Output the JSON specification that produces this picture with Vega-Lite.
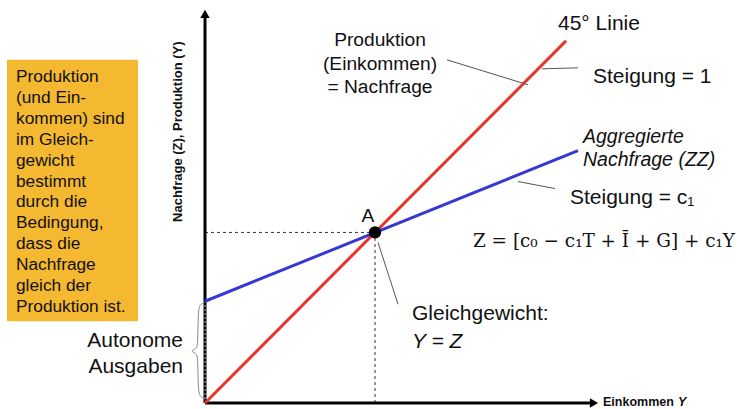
{
  "$schema": "https://vega.github.io/schema/vega-lite/v6.json",
  "width": 737,
  "height": 409,
  "autosize": {"type": "fit", "contains": "padding"},
  "padding": 0,
  "background": "white",
  "config": {"view": {"stroke": null}, "axis": {"disable": true}},
  "datasets": {
    "axes": [{"x": 0, "y": 0, "x2": 0, "y2": 389}, {"x": 0, "y": 0, "x2": 388, "y2": 0}],
    "arrowUp": [{"x": 0, "y": 390}],
    "arrowRight": [{"x": 389, "y": 0}],
    "box": [{"x": -198, "y": 344, "x2": -67, "y2": 82}],
    "curves": [
      {"curve": "45° Linie", "x": 0, "y": 0},
      {"curve": "45° Linie", "x": 361, "y": 363},
      {"curve": "ZZ", "x": 0, "y": 102},
      {"curve": "ZZ", "x": 373, "y": 253}
    ],
    "dashes": [{"x": 0, "y": 171, "x2": 170, "y2": 171}, {"x": 170, "y": 0, "x2": 170, "y2": 171}],
    "axisGap": [{"x": 0, "y": 4, "x2": 0, "y2": 100}],
    "leaders": [
      {"x": 242, "y": 344, "x2": 323, "y2": 319},
      {"x": 337, "y": 335, "x2": 373, "y2": 336},
      {"x": 313, "y": 222, "x2": 350, "y2": 215},
      {"x": 173, "y": 161, "x2": 193, "y2": 99}
    ],
    "brace": [
      {"i": 1, "x": 0, "y": 101}, {"i": 2, "x": -4, "y": 99}, {"i": 3, "x": -7, "y": 96},
      {"i": 4, "x": -7, "y": 58}, {"i": 5, "x": -9, "y": 54}, {"i": 6, "x": -15, "y": 52},
      {"i": 7, "x": -9, "y": 50}, {"i": 8, "x": -7, "y": 46}, {"i": 9, "x": -7, "y": 10},
      {"i": 10, "x": -4, "y": 6}, {"i": 11, "x": 0, "y": 4}
    ],
    "pointA": [{"x": 170, "y": 171}],
    "centerText": [
      {"x": 175, "y": 364, "text": "Produktion"},
      {"x": 175, "y": 340, "text": "(Einkommen)"},
      {"x": 175, "y": 317, "text": "= Nachfrage"},
      {"x": 163, "y": 187, "text": "A"}
    ],
    "leftText": [
      {"x": 353, "y": 380, "text": "45° Linie"},
      {"x": 388, "y": 327, "text": "Steigung = 1"},
      {"x": 365, "y": 206, "text": "Steigung = c₁"},
      {"x": 207, "y": 89, "text": "Gleichgewicht:"}
    ],
    "italicText": [
      {"x": 378, "y": 267, "text": "Aggregierte"},
      {"x": 378, "y": 244, "text": "Nachfrage (ZZ)"}
    ],
    "italicBig": [
      {"x": 207, "y": 61, "text": "Y = Z"}
    ],
    "rightText": [
      {"x": -22, "y": 62, "text": "Autonome"},
      {"x": -22, "y": 36, "text": "Ausgaben"}
    ],
    "formula": [{"x": 268, "y": 162, "text": "Z = [c₀ − c₁T + Ī + G] + c₁Y"}],
    "boxText": [
      {"x": -189, "y": 322, "text": "Produktion"},
      {"x": -189, "y": 301, "text": "(und  Ein-"},
      {"x": -189, "y": 280, "text": "kommen) sind"},
      {"x": -189, "y": 259, "text": "im Gleich-"},
      {"x": -189, "y": 238, "text": "gewicht"},
      {"x": -189, "y": 217, "text": "bestimmt"},
      {"x": -189, "y": 196, "text": "durch die"},
      {"x": -189, "y": 175, "text": "Bedingung,"},
      {"x": -189, "y": 154, "text": "dass die"},
      {"x": -189, "y": 133, "text": "Nachfrage"},
      {"x": -189, "y": 112, "text": "gleich der"},
      {"x": -189, "y": 91, "text": "Produktion ist."}
    ],
    "yTitle": [{"x": -27, "y": 272, "text": "Nachfrage  (Z), Produktion (Y)"}],
    "xTitle": [{"x": 398, "y": 1, "text": "Einkommen"}],
    "xTitleY": [{"x": 473, "y": 1, "text": "Y"}]
  },
  "encoding": {
    "x": {"field": "x", "type": "quantitative", "scale": {"domain": [-205, 532], "zero": false, "nice": false}, "axis": null},
    "y": {"field": "y", "type": "quantitative", "scale": {"domain": [-5, 404], "zero": false, "nice": false}, "axis": null}
  },
  "layer": [
    {"data": {"name": "box"}, "mark": {"type": "rect", "color": "#F5B831"},
     "encoding": {"x2": {"field": "x2"}, "y2": {"field": "y2"}}},
    {"data": {"name": "boxText"}, "mark": {"type": "text", "align": "left", "baseline": "alphabetic", "font": "Liberation Sans", "fontSize": 17.3, "color": "#111"},
     "encoding": {"text": {"field": "text"}}},
    {"data": {"name": "dashes"}, "mark": {"type": "rule", "color": "#333", "strokeWidth": 1, "strokeDash": [3, 3]},
     "encoding": {"x2": {"field": "x2"}, "y2": {"field": "y2"}}},
    {"data": {"name": "axes"}, "mark": {"type": "rule", "color": "black", "strokeWidth": 3},
     "encoding": {"x2": {"field": "x2"}, "y2": {"field": "y2"}}},
    {"data": {"name": "axisGap"}, "mark": {"type": "rule", "color": "#9a9a9a", "strokeWidth": 1.2, "strokeDash": [2, 2]},
     "encoding": {"x2": {"field": "x2"}, "y2": {"field": "y2"}}},
    {"data": {"name": "arrowUp"}, "mark": {"type": "point", "shape": "triangle-up", "filled": true, "size": 90, "color": "black", "opacity": 1}},
    {"data": {"name": "arrowRight"}, "mark": {"type": "point", "shape": "triangle-right", "filled": true, "size": 90, "color": "black", "opacity": 1}},
    {"data": {"name": "curves"}, "mark": {"type": "line", "strokeWidth": 3},
     "encoding": {"detail": {"field": "curve"}, "color": {"field": "curve", "type": "nominal", "scale": {"domain": ["45° Linie", "ZZ"], "range": ["#E8352B", "#3838D0"]}, "legend": null}}},
    {"data": {"name": "leaders"}, "mark": {"type": "rule", "color": "#555", "strokeWidth": 1},
     "encoding": {"x2": {"field": "x2"}, "y2": {"field": "y2"}}},
    {"data": {"name": "brace"}, "mark": {"type": "line", "color": "#888", "strokeWidth": 1, "interpolate": "basis"},
     "encoding": {"order": {"field": "i", "type": "quantitative"}}},
    {"data": {"name": "pointA"}, "mark": {"type": "point", "shape": "circle", "filled": true, "size": 150, "color": "black", "opacity": 1}},
    {"data": {"name": "centerText"}, "mark": {"type": "text", "align": "center", "baseline": "middle", "font": "Liberation Sans", "fontSize": 19.2, "color": "#111"},
     "encoding": {"text": {"field": "text"}}},
    {"data": {"name": "leftText"}, "mark": {"type": "text", "align": "left", "baseline": "middle", "font": "Liberation Sans", "fontSize": 21, "color": "#111"},
     "encoding": {"text": {"field": "text"}}},
    {"data": {"name": "italicText"}, "mark": {"type": "text", "align": "left", "baseline": "middle", "font": "Liberation Sans", "fontStyle": "italic", "fontSize": 19.5, "color": "#111"},
     "encoding": {"text": {"field": "text"}}},
    {"data": {"name": "italicBig"}, "mark": {"type": "text", "align": "left", "baseline": "middle", "font": "Liberation Sans", "fontStyle": "italic", "fontSize": 21, "color": "#111"},
     "encoding": {"text": {"field": "text"}}},
    {"data": {"name": "rightText"}, "mark": {"type": "text", "align": "right", "baseline": "middle", "font": "Liberation Sans", "fontSize": 21, "color": "#111"},
     "encoding": {"text": {"field": "text"}}},
    {"data": {"name": "formula"}, "mark": {"type": "text", "align": "left", "baseline": "middle", "font": "DejaVu Serif", "fontSize": 18.4, "color": "#111"},
     "encoding": {"text": {"field": "text"}}},
    {"data": {"name": "yTitle"}, "mark": {"type": "text", "align": "center", "baseline": "middle", "angle": 270, "font": "Liberation Sans", "fontWeight": "bold", "fontSize": 13, "color": "#111"},
     "encoding": {"text": {"field": "text"}}},
    {"data": {"name": "xTitle"}, "mark": {"type": "text", "align": "left", "baseline": "middle", "font": "Liberation Sans", "fontWeight": "bold", "fontSize": 12.5, "color": "#111"},
     "encoding": {"text": {"field": "text"}}},
    {"data": {"name": "xTitleY"}, "mark": {"type": "text", "align": "left", "baseline": "middle", "font": "Liberation Sans", "fontWeight": "bold", "fontStyle": "italic", "fontSize": 12.5, "color": "#111"},
     "encoding": {"text": {"field": "text"}}}
  ]
}
